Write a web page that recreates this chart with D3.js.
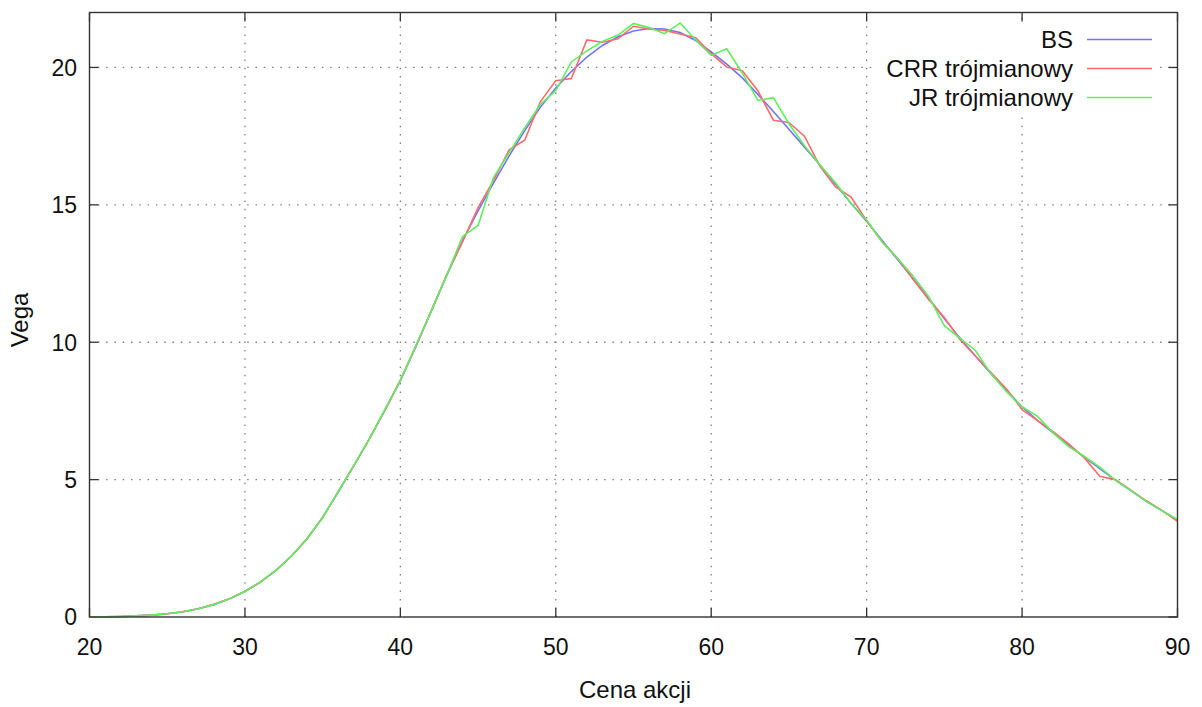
<!DOCTYPE html>
<html>
<head>
<meta charset="utf-8">
<script src="https://cdn.jsdelivr.net/npm/d3@7"></script>
<style>
  html, body { margin: 0; padding: 0; background: #fff; }
  svg { display: block; font-family: "Liberation Sans", Arial, sans-serif; }
</style>
</head>
<body>
<div id="chart"></div>
<script>
// stock price grid
const prices = [20, 21, 22, 23, 24, 25, 26, 27, 28, 29,
  30, 31, 32, 33, 34, 35, 36, 37, 38, 39,
  40, 41, 42, 43, 44, 45, 46, 47, 48, 49,
  50, 51, 52, 53, 54, 55, 56, 57, 58, 59,
  60, 61, 62, 63, 64, 65, 66, 67, 68, 69,
  70, 71, 72, 73, 74, 75, 76, 77, 78, 79,
  80, 81, 82, 83, 84, 85, 86, 87, 88, 89, 90]

const vegaBS = [0.00, 0.01, 0.02, 0.04, 0.07, 0.12, 0.19, 0.30, 0.45, 0.66,
  0.93, 1.27, 1.70, 2.22, 2.85, 3.62, 4.55, 5.50, 6.47, 7.52,
  8.60, 9.85, 11.15, 12.45, 13.70, 14.78, 15.80, 16.78, 17.70, 18.55,
  19.25, 19.85, 20.38, 20.80, 21.12, 21.33, 21.42, 21.40, 21.27, 20.98,
  20.57, 20.12, 19.62, 19.02, 18.40, 17.75, 17.10, 16.45, 15.75, 15.05,
  14.40, 13.70, 13.00, 12.30, 11.60, 10.85, 10.15, 9.50, 8.85, 8.25,
  7.65, 7.15, 6.70, 6.25, 5.82, 5.40, 4.98, 4.60, 4.22, 3.87, 3.53]

const vegaCRR = [0.00, 0.01, 0.02, 0.04, 0.07, 0.12, 0.19, 0.30, 0.46, 0.66,
  0.94, 1.27, 1.71, 2.22, 2.86, 3.62, 4.56, 5.50, 6.48, 7.52,
  8.62, 9.86, 11.15, 12.48, 13.65, 14.90, 15.90, 17.00, 17.35, 18.75,
  19.52, 19.60, 21.00, 20.92, 21.04, 21.50, 21.40, 21.35, 21.22, 21.08,
  20.50, 20.02, 19.88, 19.15, 18.08, 18.00, 17.50, 16.40, 15.65, 15.28,
  14.42, 13.65, 13.05, 12.28, 11.55, 10.90, 10.10, 9.50, 8.90, 8.30,
  7.55, 7.15, 6.75, 6.30, 5.80, 5.12, 5.00, 4.62, 4.22, 3.88, 3.48]

const vegaJR = [0.00, 0.01, 0.02, 0.04, 0.07, 0.12, 0.19, 0.30, 0.45, 0.66,
  0.93, 1.28, 1.70, 2.23, 2.85, 3.63, 4.55, 5.52, 6.47, 7.55,
  8.60, 9.88, 11.15, 12.45, 13.85, 14.25, 16.00, 16.90, 17.80, 18.65,
  19.16, 20.20, 20.60, 20.95, 21.18, 21.60, 21.45, 21.23, 21.62, 21.00,
  20.44, 20.68, 19.80, 18.80, 18.90, 17.95, 17.15, 16.45, 15.80, 15.05,
  14.45, 13.65, 13.05, 12.40, 11.65, 10.60, 10.15, 9.70, 8.85, 8.20,
  7.65, 7.30, 6.70, 6.20, 5.85, 5.45, 4.98, 4.60, 4.20, 3.87, 3.55]

const xTicks = [20, 30, 40, 50, 60, 70, 80, 90]
const yTicks = [0, 5, 10, 15, 20]

const series = [
  { name: 'BS', values: vegaBS, color: '#7373ff' },
  { name: 'CRR trójmianowy', values: vegaCRR, color: '#ff6b6b' },
  { name: 'JR trójmianowy', values: vegaJR, color: '#5fef5f' },
]

function drawChart(element) {
  const width = 1202, height = 707
  const left = 89.5, right = 1177.5, top = 12.5, bottom = 617

  const svg = d3.select(element)
    .append('svg')
    .attr('width', width)
    .attr('height', height)

  const x = d3.scaleLinear().domain([20, 90]).range([left, right])
  const y = d3.scaleLinear().domain([0, 22]).range([bottom, top])

  // dotted grid
  const grid = svg.append('g')
    .attr('stroke', '#808080')
    .attr('stroke-width', 1.3)
    .attr('stroke-dasharray', '1.5,6.8')
  grid.selectAll('line.gx')
    .data(xTicks.slice(1, -1))
    .join('line')
    .attr('x1', d => x(d)).attr('x2', d => x(d))
    .attr('y1', bottom).attr('y2', top)
  grid.selectAll('line.gy')
    .data(yTicks.slice(1))
    .join('line')
    .attr('x1', left).attr('x2', right)
    .attr('y1', d => y(d)).attr('y2', d => y(d))

  // inward ticks on all four sides
  const tickLen = 9
  const ticks = svg.append('g').attr('stroke', '#333').attr('stroke-width', 1.3)
  xTicks.forEach(t => {
    ticks.append('line').attr('x1', x(t)).attr('x2', x(t)).attr('y1', bottom).attr('y2', bottom - tickLen)
    ticks.append('line').attr('x1', x(t)).attr('x2', x(t)).attr('y1', top).attr('y2', top + tickLen)
  })
  yTicks.forEach(t => {
    ticks.append('line').attr('x1', left).attr('x2', left + tickLen).attr('y1', y(t)).attr('y2', y(t))
    ticks.append('line').attr('x1', right).attr('x2', right - tickLen).attr('y1', y(t)).attr('y2', y(t))
  })

  // opaque key area covers the grid
  svg.append('rect')
    .attr('x', 876).attr('y', 24)
    .attr('width', 284).attr('height', 90)
    .attr('fill', '#fff')

  // curves
  const line = d3.line()
    .x((d, i) => x(prices[i]))
    .y(d => y(d))

  svg.append('g')
    .attr('fill', 'none')
    .attr('stroke-width', 1.6)
    .selectAll('path')
    .data(series)
    .join('path')
    .attr('stroke', d => d.color)
    .attr('d', d => line(d.values))

  // border
  svg.append('rect')
    .attr('x', left).attr('y', top)
    .attr('width', right - left).attr('height', bottom - top)
    .attr('fill', 'none')
    .attr('stroke', '#333')
    .attr('stroke-width', 1.4)

  // tick labels
  const labels = svg.append('g').attr('font-size', 23).attr('fill', '#111')
  labels.selectAll('text.xl')
    .data(xTicks)
    .join('text')
    .attr('x', d => x(d))
    .attr('y', 655)
    .attr('text-anchor', 'middle')
    .text(d => d)
  labels.selectAll('text.yl')
    .data(yTicks)
    .join('text')
    .attr('class', 'yl')
    .attr('x', 77)
    .attr('y', d => y(d))
    .attr('dy', '0.36em')
    .attr('text-anchor', 'end')
    .text(d => d)

  // axis titles
  svg.append('text')
    .attr('x', 635).attr('y', 698)
    .attr('text-anchor', 'middle')
    .attr('font-size', 24)
    .attr('fill', '#111')
    .text('Cena akcji')
  svg.append('text')
    .attr('transform', 'translate(28,320) rotate(-90)')
    .attr('text-anchor', 'middle')
    .attr('font-size', 24)
    .attr('fill', '#111')
    .text('Vega')

  // legend
  const legend = svg.append('g')
    .selectAll('g')
    .data(series)
    .join('g')
    .attr('transform', (d, i) => `translate(0,${39.5 + i * 29})`)
  legend.append('text')
    .attr('x', 1073)
    .attr('dy', '0.36em')
    .attr('text-anchor', 'end')
    .attr('font-size', 24)
    .attr('fill', '#111')
    .text(d => d.name)
  legend.append('line')
    .attr('x1', 1087).attr('x2', 1152)
    .attr('stroke', d => d.color)
    .attr('stroke-width', 1.6)
}

window.addEventListener('load', () => {
  drawChart(document.getElementById('chart'))
})
</script>
</body>
</html>
